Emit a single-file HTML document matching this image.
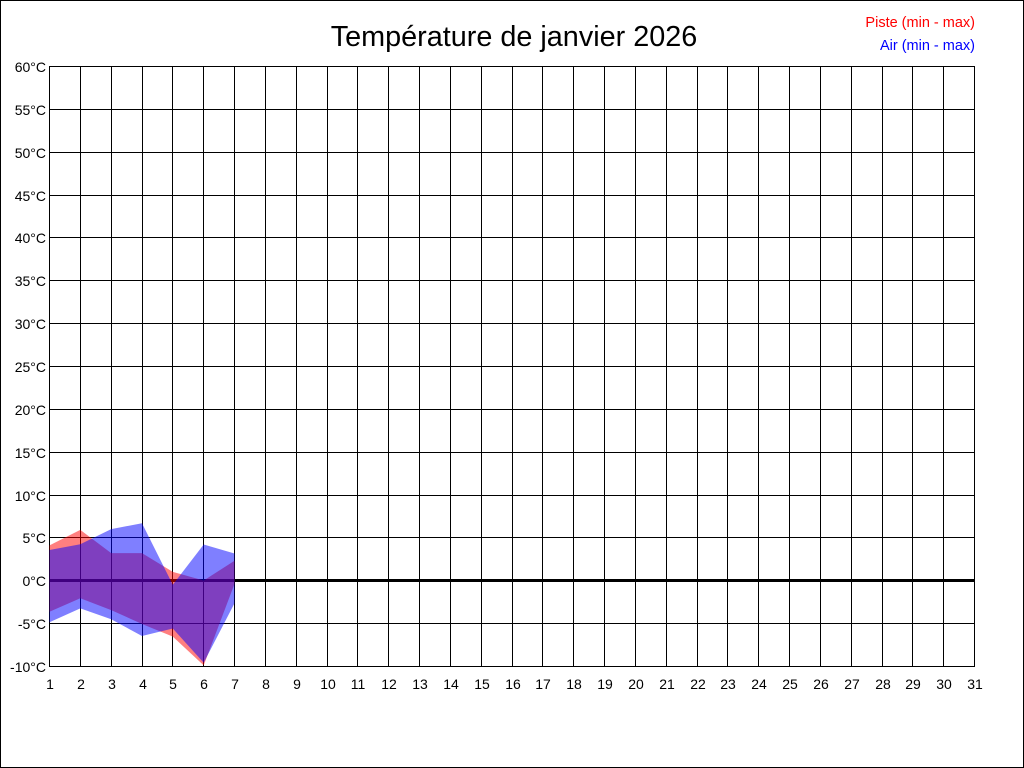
<!DOCTYPE html>
<html>
<head>
<meta charset="utf-8">
<style>
html,body{margin:0;padding:0;background:#fff;}
svg{display:block;}
text{font-family:"Liberation Sans",Arial,sans-serif;}
</style>
</head>
<body>
<svg width="1024" height="768" viewBox="0 0 1024 768" xmlns="http://www.w3.org/2000/svg">
<rect x="0" y="0" width="1024" height="768" fill="#fff"/>
<rect x="0.5" y="0.5" width="1023" height="767" fill="none" stroke="#000"/>
<text x="514" y="46" font-size="28.8" text-anchor="middle" fill="#000">Température de janvier 2026</text>
<text x="975" y="27" font-size="14.5" text-anchor="end" fill="#ff0000">Piste (min - max)</text>
<text x="975" y="50" font-size="14.5" text-anchor="end" fill="#0000ff">Air (min - max)</text>
<path shape-rendering="crispEdges" stroke="#000" fill="none" d="M49 109.5H975M49 152.5H975M49 195.5H975M49 237.5H975M49 280.5H975M49 323.5H975M49 366.5H975M49 409.5H975M49 452.5H975M49 495.5H975M49 537.5H975M49 623.5H975M80.5 66V667M111.5 66V667M142.5 66V667M172.5 66V667M203.5 66V667M234.5 66V667M265.5 66V667M296.5 66V667M327.5 66V667M357.5 66V667M388.5 66V667M419.5 66V667M450.5 66V667M481.5 66V667M512.5 66V667M542.5 66V667M573.5 66V667M604.5 66V667M635.5 66V667M666.5 66V667M697.5 66V667M727.5 66V667M758.5 66V667M789.5 66V667M820.5 66V667M851.5 66V667M882.5 66V667M912.5 66V667M943.5 66V667M49.5 66.5H974.5V666.5H49.5Z"/>
<rect x="49" y="579" width="926" height="3" fill="#000" shape-rendering="crispEdges"/>
<polygon fill="#ff0000" fill-opacity="0.5" points="49.5,545.4 80.3,529.9 111.2,553.1 142,553.1 172.8,571.9 203.7,580.5 234.5,560.8 234.5,583.9 203.7,665.4 172.8,636.6 142,624.0 111.2,610.1 80.3,598.3 49.5,611.8"/>
<polygon fill="#0000ff" fill-opacity="0.5" points="49.5,550.0 80.3,544.3 111.2,529.1 142,523.3 172.8,584.8 203.7,544.5 234.5,553.5 234.5,603.2 203.7,662.8 172.8,628.5 142,636.0 111.2,619.3 80.3,608.4 49.5,622.3"/>
<g font-size="14" fill="#000" text-anchor="end">
<text x="46" y="72">60°C</text><text x="46" y="115">55°C</text><text x="46" y="158">50°C</text>
<text x="46" y="201">45°C</text><text x="46" y="243">40°C</text><text x="46" y="286">35°C</text>
<text x="46" y="329">30°C</text><text x="46" y="372">25°C</text><text x="46" y="415">20°C</text>
<text x="46" y="458">15°C</text><text x="46" y="501">10°C</text><text x="46" y="543">5°C</text>
<text x="46" y="586">0°C</text><text x="46" y="629">-5°C</text><text x="46" y="672">-10°C</text>
</g>
<g font-size="14" fill="#000" text-anchor="middle">
<text x="50" y="689">1</text><text x="81" y="689">2</text><text x="112" y="689">3</text>
<text x="143" y="689">4</text><text x="173" y="689">5</text><text x="204" y="689">6</text>
<text x="235" y="689">7</text><text x="266" y="689">8</text><text x="297" y="689">9</text>
<text x="328" y="689">10</text><text x="358" y="689">11</text><text x="389" y="689">12</text>
<text x="420" y="689">13</text><text x="451" y="689">14</text><text x="482" y="689">15</text>
<text x="513" y="689">16</text><text x="543" y="689">17</text><text x="574" y="689">18</text>
<text x="605" y="689">19</text><text x="636" y="689">20</text><text x="667" y="689">21</text>
<text x="698" y="689">22</text><text x="728" y="689">23</text><text x="759" y="689">24</text>
<text x="790" y="689">25</text><text x="821" y="689">26</text><text x="852" y="689">27</text>
<text x="883" y="689">28</text><text x="913" y="689">29</text><text x="944" y="689">30</text>
<text x="975" y="689">31</text>
</g>
</svg>
</body>
</html>
